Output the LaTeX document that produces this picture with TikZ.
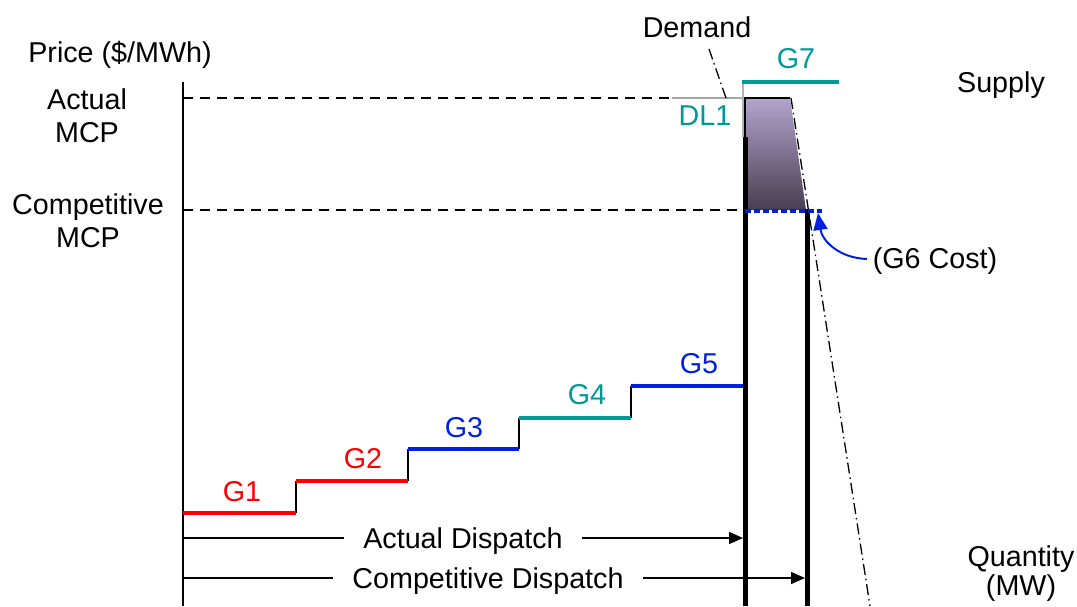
\documentclass[tikz,border=0pt]{standalone}
\usepackage{fontspec}
\setmainfont{Liberation Sans}
\usetikzlibrary{arrows.meta}
\definecolor{gred}{RGB}{255,0,0}
\definecolor{gblue}{RGB}{0,32,224}
\definecolor{gteal}{RGB}{0,153,153}
\definecolor{shtop}{RGB}{180,164,206}
\definecolor{shbot}{RGB}{70,62,80}
\tikzset{
  lbl/.style={anchor=base, inner sep=0pt, font=\fontsize{28.7}{34}\selectfont},
  stepline/.style={line width=4.5pt},
  riser/.style={line width=1.5pt, black},
  mcpline/.style={line width=1.5pt, dash pattern=on 10pt off 7pt},
  dashdot/.style={line width=1.3pt, dash pattern=on 11pt off 4pt on 1.5pt off 4pt},
  thickbar/.style={line width=5pt, black},
  disparrow/.style={line width=1.5pt, -{Triangle[length=14pt,width=12pt]}},
  dispbox/.style={lbl, fill=white, inner xsep=19pt, inner ysep=3pt}
}
\begin{document}
\begin{tikzpicture}[x=1pt,y=-1pt]
\useasboundingbox (0,0) rectangle (1077,606);

% axis
\coordinate (axtop) at (183,82);
\coordinate (axbot) at (183,606);
\draw[line width=1.5pt] (axtop) -- (axbot);

% MCP dashed lines
\coordinate (amL) at (183,98);
\coordinate (amG) at (672,98);
\coordinate (amR) at (745,98);
\coordinate (cmL) at (183,210);
\coordinate (cmR) at (745,210);
\draw[mcpline] (amL) -- (amG);
\draw[line width=1.5pt, gray!70] (amG) -- (amR);
\draw[mcpline] (cmL) -- (cmR);

% shaded area
\coordinate (s1) at (745,98);
\coordinate (s2) at (790,98);
\coordinate (s3) at (806,210);
\coordinate (s4) at (745,210);
\shade[top color=shtop, bottom color=shbot] (s1) -- (s2) -- (s3) -- (s4) -- cycle;
\draw[line width=2pt, black] (s4) -- (s1) -- (s2);

% gray top of actual line, thick bars
\coordinate (gvt) at (743,82);
\coordinate (gvb) at (743,137);
\draw[line width=2pt, gray!60] (gvt) -- (gvb);
\coordinate (b1t) at (745,137);
\coordinate (b1b) at (745,606);
\coordinate (b2t) at (807,209);
\coordinate (b2b) at (807,606);
\draw[thickbar] (b1t) -- (b1b);
\draw[thickbar] (b2t) -- (b2b);

% G7 line
\coordinate (g7a) at (742,82);
\coordinate (g7b) at (839,82);
\draw[stepline, gteal] (g7a) -- (g7b);

% demand lines
\coordinate (dl0) at (709,49);
\coordinate (dl1) at (726,98);
\draw[dashdot] (dl0) -- (dl1);
\coordinate (dd0) at (791,98);
\coordinate (dd1) at (870,606);
\draw[dashdot] (dd0) -- (dd1);

% blue dotted at competitive MCP
\coordinate (bd0) at (745,211);
\coordinate (bd1) at (822,211);
\draw[gblue, line width=3.5pt, dash pattern=on 5.5pt off 3.5pt] (bd0) -- (bd1);

% steps
\coordinate (p0) at (183,513);
\coordinate (p1) at (296,513);
\coordinate (p1u) at (296,481);
\coordinate (p2) at (408,481);
\coordinate (p2u) at (408,449);
\coordinate (p3) at (519,449);
\coordinate (p3u) at (519,418);
\coordinate (p4) at (631,418);
\coordinate (p4u) at (631,386);
\coordinate (p5) at (743,386);
\draw[riser] (p1) -- (p1u);
\draw[riser] (p2) -- (p2u);
\draw[riser] (p3) -- (p3u);
\draw[riser] (p4) -- (p4u);
\draw[stepline, gred] (p0) -- (p1);
\draw[stepline, gred] (p1u) -- (p2);
\draw[stepline, gblue] (p2u) -- (p3);
\draw[stepline, gteal] (p3u) -- (p4);
\draw[stepline, gblue] (p4u) -- (p5);

% step labels
\node[lbl, gred] (lg1) at (242,501) {G1};
\node[lbl, gred] (lg2) at (363,468) {G2};
\node[lbl, gblue] (lg3) at (464,437) {G3};
\node[lbl, gteal] (lg4) at (587,404) {G4};
\node[lbl, gblue] (lg5) at (699,373) {G5};
\node[lbl, gteal] (lg7) at (796,68) {G7};
\node[lbl, gteal] (ldl1) at (705,125) {DL1};

% text labels
\node[lbl] (price) at (120,62) {Price (\$/MWh)};
\node[lbl] (am1) at (87,109) {Actual};
\node[lbl] (am2) at (87,142) {MCP};
\node[lbl] (cm1) at (88,214) {Competitive};
\node[lbl] (cm2) at (88,247) {MCP};
\node[lbl] (dem) at (697,37) {Demand};
\node[lbl] (sup) at (1001,92) {Supply};
\node[lbl] (q1) at (1021,566) {Quantity};
\node[lbl] (q2) at (1021,595) {(MW)};
\node[lbl] (g6) at (935,268) {(G6 Cost)};

% G6 cost arrow
\coordinate (g6s) at (867,259);
\coordinate (g6e) at (818,213);
\draw[gblue, line width=2pt, -{Triangle[length=17pt,width=14pt]}] (g6s) .. controls (838,258) and (822,240) .. (g6e);

% dispatch arrows
\coordinate (ad0) at (183,538);
\coordinate (ad1) at (743,538);
\coordinate (cd0) at (183,578);
\coordinate (cd1) at (805,578);
\draw[disparrow] (ad0) -- (ad1);
\draw[disparrow] (cd0) -- (cd1);
\node[dispbox] (adl) at (463,548) {Actual Dispatch};
\node[dispbox] (cdl) at (488,588) {Competitive Dispatch};
\end{tikzpicture}
\end{document}
